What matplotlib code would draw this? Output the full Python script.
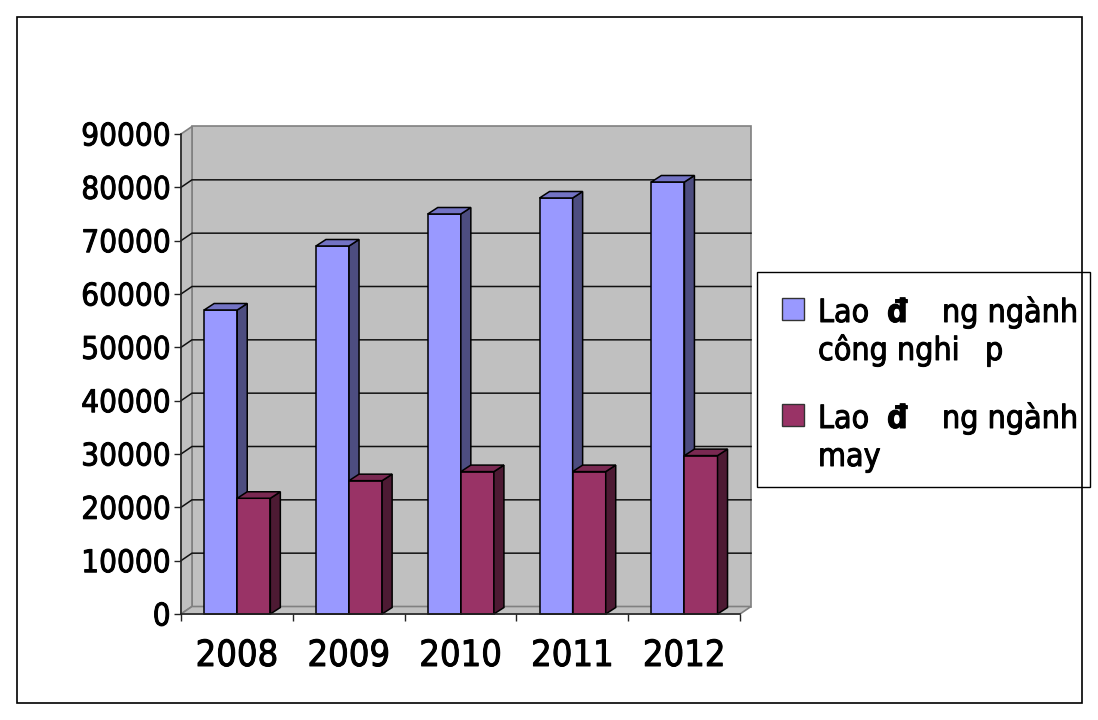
import matplotlib
matplotlib.use("Agg")
import matplotlib.pyplot as plt
import matplotlib.patheffects as pe
from matplotlib.patches import Polygon, Rectangle

# --- data ---------------------------------------------------------------
years = ["2008", "2009", "2010", "2011", "2012"]
industry_workers = [57000, 69000, 75000, 78000, 81000]
garment_workers = [21700, 25000, 26700, 26700, 29700]
y_ticks = [0, 10000, 20000, 30000, 40000, 50000, 60000, 70000, 80000, 90000]
y_max = 90000

# --- figure geometry (pixels) -------------------------------------------
W, H = 1098, 720
fig = plt.figure(figsize=(W / 100, H / 100), dpi=100)
fig.patch.set_facecolor("white")
plt.rcParams["font.family"] = ["DejaVu Sans"]
plt.rcParams["font.stretch"] = "condensed"
heavy = [pe.withStroke(linewidth=0.7, foreground="black")]


def fx(px):
    return px / W


def fy(py):
    return 1 - py / H


ax_l, ax_r, ax_t, ax_b = 181, 740, 134, 614
ax = fig.add_axes([fx(ax_l), fy(ax_b), (ax_r - ax_l) / W, (ax_b - ax_t) / H])
ax.set_xlim(0, len(years))
ax.set_ylim(0, y_max)
ax.patch.set_visible(False)

px_per_cat = (ax_r - ax_l) / len(years)
px_per_val = (ax_b - ax_t) / y_max

# oblique depth of the walls and of the columns, in data units
DX = 11 / px_per_cat
DY = 7.5 / px_per_val
BDX = 10 / px_per_cat
BDY = 6.5 / px_per_val

wall_face = "#C0C0C0"
wall_edge = "#808080"
n = len(years)

# back wall, left wall and floor
ax.add_patch(Rectangle((DX, DY), n, y_max, facecolor=wall_face,
                       edgecolor=wall_edge, lw=1.2, zorder=1, clip_on=False))
ax.add_patch(Polygon([(0, 0), (0, y_max), (DX, y_max + DY), (DX, DY)],
                     closed=True, facecolor=wall_face, edgecolor=wall_edge,
                     lw=1.2, zorder=1, clip_on=False))
ax.add_patch(Polygon([(0, 0), (n, 0), (n + DX, DY), (DX, DY)],
                     closed=True, facecolor=wall_face, edgecolor=wall_edge,
                     lw=1.2, zorder=1, clip_on=False))

# gridlines along the left wall and the back wall
for v in y_ticks[1:-1]:
    ax.plot([0, DX, n + DX], [v, v + DY, v + DY], color="#111111",
            lw=1.1, zorder=1.5, clip_on=False, solid_joinstyle="miter")

# --- 3D columns -----------------------------------------------------------
bar_w = 0.296
series = [
    (industry_workers, 0.207, "#9999FF", "#7373C4", "#4D4D80", 3),
    (garment_workers, 0.503, "#993366", "#7A2952", "#4D1A33", 4),
]
for values, offset, front, top, side, z in series:
    lefts = [i + offset for i in range(n)]
    ax.bar(lefts, values, width=bar_w, align="edge", color=front,
           edgecolor="black", lw=1.1, zorder=z, clip_on=False)
    for l, v in zip(lefts, values):
        r = l + bar_w
        ax.add_patch(Polygon([(r, 0), (r, v), (r + BDX, v + BDY), (r + BDX, BDY)],
                             closed=True, facecolor=side, edgecolor="black",
                             lw=1.1, zorder=z, clip_on=False))
        ax.add_patch(Polygon([(l, v), (r, v), (r + BDX, v + BDY), (l + BDX, v + BDY)],
                             closed=True, facecolor=top, edgecolor="black",
                             lw=1.1, zorder=z, clip_on=False))

# --- axes ---------------------------------------------------------------
for s in ("top", "right"):
    ax.spines[s].set_visible(False)
for s in ("left", "bottom"):
    ax.spines[s].set_color("#222222")
    ax.spines[s].set_linewidth(1.1)
    ax.spines[s].set_zorder(5)

ax.set_yticks(y_ticks)
ax.set_yticklabels([str(v) for v in y_ticks])
ax.tick_params(axis="y", direction="out", length=5, width=1, color="#222222",
               pad=2.5, labelsize=22.5)

ax.set_xticks(range(n + 1))
ax.set_xticklabels([""] * (n + 1))
ax.tick_params(axis="x", which="major", direction="out", length=5, width=1,
               color="#222222")
ax.set_xticks([i + 0.5 for i in range(n)], minor=True)
ax.set_xticklabels(years, minor=True)
ax.tick_params(axis="x", which="minor", length=0, pad=18, labelsize=26)

for lab in ax.get_yticklabels() + ax.get_xticklabels(minor=True):
    lab.set_path_effects(heavy)

# --- legend -------------------------------------------------------------
fig.add_artist(Rectangle((fx(757), fy(487)), (1090 - 757) / W, (487 - 272) / H,
                         transform=fig.transFigure, facecolor="white",
                         edgecolor="black", lw=1))
leg_fs = 23
entries = [
    ("#9999FF", 298, [(322, [("Lao", 818, "normal"), ("đ", 887, "bold"),
                             ("ng ngành", 942, "normal")]),
                      (360, [("công nghi", 818, "normal"), ("p", 985, "normal")])]),
    ("#993366", 404, [(428, [("Lao", 818, "normal"), ("đ", 887, "bold"),
                             ("ng ngành", 942, "normal")]),
                      (466, [("may", 818, "normal")])]),
]
for color, sq_top, lines in entries:
    fig.add_artist(Rectangle((fx(782), fy(sq_top + 22)), 22 / W, 22 / H,
                             transform=fig.transFigure, facecolor=color,
                             edgecolor="#333333", lw=1))
    for base, pieces in lines:
        for txt, x, weight in pieces:
            t = fig.text(fx(x), fy(base), txt, fontsize=leg_fs, fontweight=weight,
                         ha="left", va="baseline")
            t.set_path_effects(heavy)

# outer chart border
fig.add_artist(Rectangle((fx(17), fy(703)), (1082 - 17) / W, (703 - 17) / H,
                         transform=fig.transFigure, facecolor="none",
                         edgecolor="black", lw=1.2))

fig.savefig("out.png", dpi=100)
